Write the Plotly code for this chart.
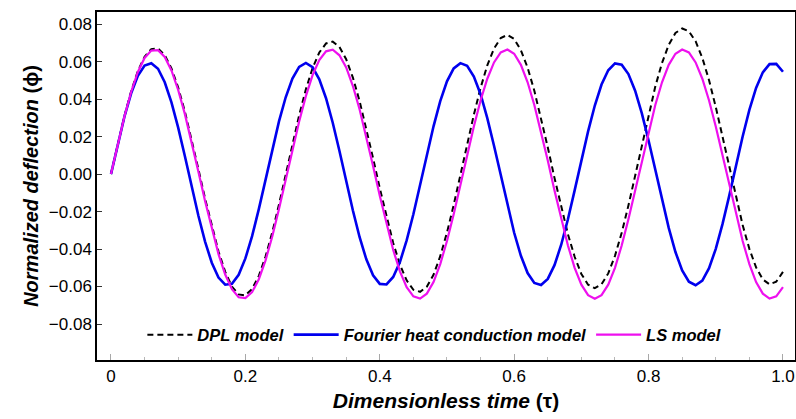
import plotly.graph_objects as go

tau = [round(0.01 * i, 2) for i in range(101)]

dpl = [0.0, 0.0159, 0.0309, 0.0442, 0.0550, 0.0626, 0.0667, 0.0670, 0.0635, 0.0564,
       0.0462, 0.0333, 0.0186, 0.0028, -0.0130, -0.0280, -0.0413, -0.0522, -0.0600, -0.0642,
       -0.0647, -0.0613, -0.0543, -0.0440, -0.0311, -0.0162, -0.0002, 0.0160, 0.0314, 0.0452,
       0.0566, 0.0649, 0.0697, 0.0707, 0.0679, 0.0613, 0.0515, 0.0389, 0.0243, 0.0085,
       -0.0075, -0.0229, -0.0368, -0.0483, -0.0567, -0.0617, -0.0628, -0.0601, -0.0537, -0.0438,
       -0.0312, -0.0165, -0.0005, 0.0159, 0.0317, 0.0460, 0.0580, 0.0670, 0.0726, 0.0743,
       0.0721, 0.0661, 0.0568, 0.0445, 0.0301, 0.0143, -0.0020, -0.0177, -0.0321, -0.0441,
       -0.0533, -0.0590, -0.0609, -0.0588, -0.0530, -0.0436, -0.0313, -0.0168, -0.0008, 0.0158,
       0.0319, 0.0467, 0.0593, 0.0690, 0.0753, 0.0777, 0.0762, 0.0709, 0.0620, 0.0501,
       0.0358, 0.0200, 0.0036, -0.0124, -0.0272, -0.0399, -0.0498, -0.0562, -0.0588, -0.0574,
       -0.0522]

fourier = [0.0, 0.0159, 0.0306, 0.0431, 0.0524, 0.0579, 0.0592, 0.0562, 0.0490, 0.0383,
           0.0248, 0.0095, -0.0066, -0.0221, -0.0360, -0.0473, -0.0552, -0.0590, -0.0585, -0.0537,
           -0.0450, -0.0331, -0.0187, -0.0029, 0.0131, 0.0281, 0.0410, 0.0510, 0.0572, 0.0593,
           0.0570, 0.0506, 0.0405, 0.0274, 0.0123, -0.0037, -0.0194, -0.0337, -0.0455, -0.0540,
           -0.0586, -0.0589, -0.0549, -0.0469, -0.0354, -0.0214, -0.0058, 0.0102, 0.0255, 0.0389,
           0.0495, 0.0564, 0.0592, 0.0578, 0.0521, 0.0426, 0.0299, 0.0151, -0.0008, -0.0166,
           -0.0313, -0.0436, -0.0528, -0.0581, -0.0592, -0.0559, -0.0486, -0.0377, -0.0241, -0.0087,
           0.0073, 0.0228, 0.0366, 0.0478, 0.0554, 0.0591, 0.0584, 0.0534, 0.0445, 0.0324,
           0.0179, 0.0021, -0.0138, -0.0287, -0.0416, -0.0514, -0.0574, -0.0593, -0.0568, -0.0502,
           -0.0399, -0.0267, -0.0116, 0.0044, 0.0201, 0.0343, 0.0460, 0.0543, 0.0587, 0.0588,
           0.0546]

ls = [0.0, 0.0158, 0.0307, 0.0438, 0.0545, 0.0620, 0.0659, 0.0661, 0.0625, 0.0553,
      0.0449, 0.0320, 0.0172, 0.0014, -0.0144, -0.0294, -0.0427, -0.0536, -0.0614, -0.0657,
      -0.0662, -0.0630, -0.0561, -0.0460, -0.0333, -0.0186, -0.0029, 0.0130, 0.0281, 0.0416,
      0.0528, 0.0609, 0.0655, 0.0664, 0.0634, 0.0569, 0.0470, 0.0345, 0.0200, 0.0043,
      -0.0115, -0.0268, -0.0405, -0.0519, -0.0603, -0.0652, -0.0664, -0.0638, -0.0576, -0.0480,
      -0.0357, -0.0214, -0.0058, 0.0101, 0.0254, 0.0393, 0.0509, 0.0596, 0.0649, 0.0665,
      0.0642, 0.0583, 0.0490, 0.0369, 0.0227, 0.0072, -0.0087, -0.0241, -0.0381, -0.0500,
      -0.0590, -0.0646, -0.0665, -0.0646, -0.0590, -0.0500, -0.0381, -0.0241, -0.0087, 0.0072,
      0.0227, 0.0369, 0.0490, 0.0583, 0.0642, 0.0665, 0.0649, 0.0596, 0.0509, 0.0393,
      0.0254, 0.0101, -0.0058, -0.0214, -0.0357, -0.0480, -0.0576, -0.0638, -0.0664, -0.0652,
      -0.0603]

x_tickvals = [0, 0.2, 0.4, 0.6, 0.8, 1.0]
x_ticktext = ["0", "0.2", "0.4", "0.6", "0.8", "1.0"]
y_tickvals = [-0.08, -0.06, -0.04, -0.02, 0.0, 0.02, 0.04, 0.06, 0.08]
y_ticktext = ["\u22120.08", "\u22120.06", "\u22120.04", "\u22120.02", "0.00",
              "0.02", "0.04", "0.06", "0.08"]

FONT = "Liberation Sans, Arial, sans-serif"

fig = go.Figure()
fig.add_trace(go.Scatter(x=tau, y=dpl, mode="lines", name="<b><i>DPL model</i></b>",
                         line=dict(color="black", width=2, dash="6px,4px")))
fig.add_trace(go.Scatter(x=tau, y=fourier, mode="lines",
                         name="<b><i>Fourier heat conduction model</i></b>",
                         line=dict(color="#0000ee", width=2.6)))
fig.add_trace(go.Scatter(x=tau, y=ls, mode="lines", name="<b><i>LS model</i></b>",
                         line=dict(color="#ee10ee", width=2.2)))

fig.update_layout(
    width=796, height=419,
    margin=dict(l=97, r=1, t=12, b=59, autoexpand=False),
    paper_bgcolor="white", plot_bgcolor="white",
    font=dict(family=FONT, size=17, color="black"),
    showlegend=True,
    legend=dict(orientation="h", x=0.065, y=0.072, xanchor="left", yanchor="middle",
                bgcolor="rgba(0,0,0,0)", font=dict(size=16.5, family=FONT),
                itemwidth=45, tracegroupgap=0),
)

fig.update_xaxes(
    automargin=False,
    range=[-0.0208, 1.0179],
    tickvals=x_tickvals, ticktext=x_ticktext,
    ticks="inside", ticklen=6, tickcolor="#a8a8a8", tickwidth=1,
    minor=dict(ticks="inside", ticklen=3, tickcolor="#b8b8b8", dtick=0.05, tick0=0,
               showgrid=False),
    showgrid=False, zeroline=False,
    showline=True, linecolor="black", linewidth=1.5, mirror=True,
    tickfont=dict(size=17, family=FONT),
    title=dict(text="<b><i>Dimensionless time</i> (\u03c4)</b>", font=dict(size=21, family=FONT),
               standoff=8),
)
fig.update_yaxes(
    automargin=False,
    range=[-0.0992, 0.0865],
    tickvals=y_tickvals, ticktext=y_ticktext,
    ticks="inside", ticklen=5, tickcolor="#333333", tickwidth=1,
    showgrid=False, zeroline=False,
    showline=True, linecolor="black", linewidth=1.5, mirror=True,
    tickfont=dict(size=17, family=FONT),
    title=dict(text="<b><i>Normalized deflection</i> (\u03d5)</b>", font=dict(size=20, family=FONT),
               standoff=5),
)

fig.write_html(
    "out.html",
    config={"displayModeBar": False},
    post_script="document.body.style.margin='0px';document.body.style.overflow='hidden';",
)
